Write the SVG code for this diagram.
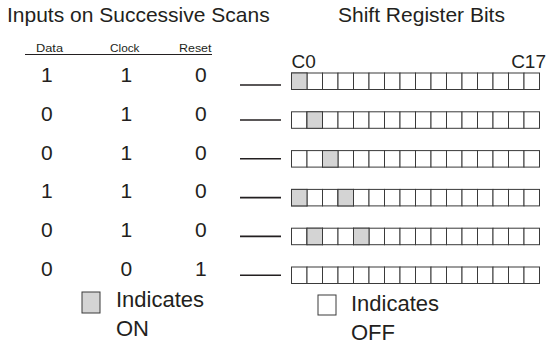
<svg xmlns="http://www.w3.org/2000/svg" width="547" height="344" viewBox="0 0 547 344">
<style>
text{font-family:"Liberation Sans",Arial,sans-serif;fill:#231f20}
.title{font-size:21px}
.hdr{font-size:11px}
.dig{font-size:21px}
.lbl{font-size:19px}
.leg{font-size:22px}
.c{fill:#fff;stroke:#3a3a3a;stroke-width:1}
.on{fill:#d4d4d4}
.ln{stroke:#231f20;stroke-width:1.6}
</style>
<defs>
<g id="reg">
<rect class="c" x="0" y="0" width="15.5" height="16.5"/>
<rect class="c" x="15.5" y="0" width="15.5" height="16.5"/>
<rect class="c" x="31" y="0" width="15.5" height="16.5"/>
<rect class="c" x="46.5" y="0" width="15.5" height="16.5"/>
<rect class="c" x="62" y="0" width="15.5" height="16.5"/>
<rect class="c" x="77.5" y="0" width="15.5" height="16.5"/>
<rect class="c" x="93" y="0" width="15.5" height="16.5"/>
<rect class="c" x="108.5" y="0" width="15.5" height="16.5"/>
<rect class="c" x="124" y="0" width="15.5" height="16.5"/>
<rect class="c" x="139.5" y="0" width="15.5" height="16.5"/>
<rect class="c" x="155" y="0" width="15.5" height="16.5"/>
<rect class="c" x="170.5" y="0" width="15.5" height="16.5"/>
<rect class="c" x="186" y="0" width="15.5" height="16.5"/>
<rect class="c" x="201.5" y="0" width="15.5" height="16.5"/>
<rect class="c" x="217" y="0" width="15.5" height="16.5"/>
<rect class="c" x="232.5" y="0" width="15.5" height="16.5"/>
</g>
</defs>
<g id="titles">
<text class="title" x="7" y="22">Inputs on Successive Scans</text>
<text class="title" x="338" y="22">Shift Register Bits</text>
</g>
<g id="headers">
<text class="hdr" x="36" y="52" textLength="27" lengthAdjust="spacingAndGlyphs">Data</text>
<text class="hdr" x="110" y="52" textLength="29.5" lengthAdjust="spacingAndGlyphs">Clock</text>
<text class="hdr" x="179" y="52" textLength="32.5" lengthAdjust="spacingAndGlyphs">Reset</text>
<line x1="25" y1="54.5" x2="212" y2="54.5" stroke="#231f20" stroke-width="1"/>
</g>
<g id="inputs">
<text class="dig" x="41" y="82">1</text><text class="dig" x="120.5" y="82">1</text><text class="dig" x="195" y="82">0</text>
<text class="dig" x="41" y="120.8">0</text><text class="dig" x="120.5" y="120.8">1</text><text class="dig" x="195" y="120.8">0</text>
<text class="dig" x="41" y="159.6">0</text><text class="dig" x="120.5" y="159.6">1</text><text class="dig" x="195" y="159.6">0</text>
<text class="dig" x="41" y="198.4">1</text><text class="dig" x="120.5" y="198.4">1</text><text class="dig" x="195" y="198.4">0</text>
<text class="dig" x="41" y="237.2">0</text><text class="dig" x="120.5" y="237.2">1</text><text class="dig" x="195" y="237.2">0</text>
<text class="dig" x="41" y="276">0</text><text class="dig" x="120.5" y="276">0</text><text class="dig" x="195" y="276">1</text>
</g>
<g id="connectors">
<line class="ln" x1="240" y1="85" x2="281" y2="85"/>
<line class="ln" x1="240" y1="120" x2="281" y2="120"/>
<line class="ln" x1="240" y1="158.8" x2="281" y2="158.8"/>
<line class="ln" x1="240" y1="197.6" x2="281" y2="197.6"/>
<line class="ln" x1="240" y1="236.4" x2="281" y2="236.4"/>
<line class="ln" x1="240" y1="275.2" x2="281" y2="275.2"/>
</g>
<g id="register-labels">
<text class="lbl" x="291.5" y="68">C0</text>
<text class="lbl" x="546" y="68" text-anchor="end">C17</text>
</g>
<g id="row1" transform="translate(291.5,73)"><use href="#reg"/><rect class="c on" x="0" y="0" width="15.5" height="16.5"/></g>
<g id="row2" transform="translate(291.5,111.8)"><use href="#reg"/><rect class="c on" x="15.5" y="0" width="15.5" height="16.5"/></g>
<g id="row3" transform="translate(291.5,150.6)"><use href="#reg"/><rect class="c on" x="31" y="0" width="15.5" height="16.5"/></g>
<g id="row4" transform="translate(291.5,189.4)"><use href="#reg"/><rect class="c on" x="0" y="0" width="15.5" height="16.5"/><rect class="c on" x="46.5" y="0" width="15.5" height="16.5"/></g>
<g id="row5" transform="translate(291.5,228.2)"><use href="#reg"/><rect class="c on" x="15.5" y="0" width="15.5" height="16.5"/><rect class="c on" x="62" y="0" width="15.5" height="16.5"/></g>
<g id="row6" transform="translate(291.5,267)"><use href="#reg"/></g>
<g id="legend-on">
<rect class="c on" x="82" y="292" width="18" height="21"/>
<text class="leg" x="116" y="307">Indicates</text>
<text class="leg" x="116" y="336">ON</text>
</g>
<g id="legend-off">
<rect class="c" x="318" y="295" width="18" height="20"/>
<text class="leg" x="351" y="311">Indicates</text>
<text class="leg" x="351" y="340">OFF</text>
</g>
</svg>
